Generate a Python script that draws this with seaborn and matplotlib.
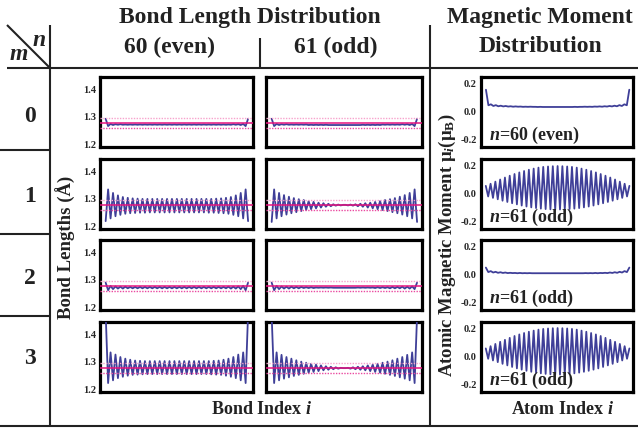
import matplotlib
matplotlib.use("Agg")
import matplotlib.pyplot as plt
import seaborn as sns
import pandas as pd

sns.set_style("white")
plt.rcParams['font.family'] = ['Liberation Serif', 'DejaVu Serif']
plt.rcParams['font.weight'] = 'bold'
plt.rcParams['mathtext.fontset'] = 'custom'
plt.rcParams['mathtext.rm'] = 'Liberation Serif:bold'
plt.rcParams['mathtext.it'] = 'Liberation Serif:italic:bold'
plt.rcParams['mathtext.bf'] = 'Liberation Serif:bold'

# ---------------- data ----------------
row_labels = ["0", "1", "2", "3"]
col_titles = ["60 (even)", "61 (odd)"]
bond_ticks = [1.2, 1.3, 1.4]
mag_ticks = [-0.2, 0.0, 0.2]
mean_bond = 1.277
bond_band = [1.296, 1.258]
mag_labels = ["$n$=60 (even)", "$n$=61 (odd)", "$n$=61 (odd)", "$n$=61 (odd)"]

bond_m0_even = [1.293,1.266,1.274,1.270,1.273,1.271,1.273,1.271,1.272,1.271,1.272,1.271,1.272,1.271,1.272,
                1.271,1.272,1.271,1.272,1.271,1.272,1.271,1.272,1.271,1.272,1.271,1.272,1.271,1.272,1.271,
                1.272,1.271,1.272,1.271,1.272,1.271,1.272,1.271,1.272,1.271,1.272,1.271,1.272,1.271,1.272,
                1.271,1.272,1.271,1.272,1.271,1.272,1.271,1.273,1.271,1.273,1.270,1.274,1.266,1.293]
bond_m0_odd = [1.293,1.266,1.274,1.270,1.273,1.271,1.273,1.271,1.272,1.271,1.272,1.271,1.272,1.271,1.272,
               1.270,1.271,1.270,1.271,1.270,1.271,1.270,1.271,1.270,1.270,1.270,1.270,1.270,1.270,1.270,
               1.270,1.270,1.270,1.270,1.270,1.270,1.270,1.271,1.270,1.271,1.270,1.271,1.270,1.271,1.270,
               1.272,1.271,1.272,1.271,1.272,1.271,1.272,1.271,1.273,1.271,1.273,1.270,1.274,1.266,1.293]
bond_m1_even = [1.218,1.335,1.228,1.322,1.236,1.313,1.241,1.307,1.245,1.304,1.247,1.302,1.248,1.301,1.249,
                1.300,1.249,1.300,1.250,1.300,1.250,1.300,1.250,1.300,1.250,1.300,1.250,1.300,1.250,1.300,
                1.250,1.300,1.250,1.300,1.250,1.300,1.250,1.300,1.250,1.300,1.250,1.300,1.249,1.300,1.249,
                1.301,1.248,1.302,1.247,1.304,1.245,1.307,1.241,1.313,1.236,1.322,1.228,1.335,1.218]
bond_m1_odd = [1.215,1.335,1.228,1.322,1.236,1.314,1.242,1.308,1.247,1.303,1.251,1.299,1.255,1.296,1.259,
               1.292,1.262,1.289,1.265,1.286,1.268,1.284,1.271,1.282,1.273,1.280,1.275,1.279,1.276,1.278,
               1.278,1.276,1.279,1.275,1.280,1.273,1.282,1.271,1.284,1.268,1.286,1.265,1.289,1.262,1.292,
               1.259,1.296,1.255,1.299,1.251,1.303,1.247,1.308,1.242,1.314,1.236,1.322,1.228,1.335,1.215]
bond_m2_even = [1.290,1.262,1.278,1.266,1.276,1.268,1.275,1.268,1.275,1.269,1.274,1.269,1.274,1.269,1.274,
                1.269,1.274,1.269,1.274,1.269,1.274,1.269,1.274,1.269,1.274,1.269,1.274,1.269,1.274,1.269,
                1.274,1.269,1.274,1.269,1.274,1.269,1.274,1.269,1.274,1.269,1.274,1.269,1.274,1.269,1.274,
                1.269,1.274,1.269,1.274,1.269,1.275,1.268,1.275,1.268,1.276,1.266,1.278,1.262,1.290]
bond_m2_odd = [1.290,1.262,1.278,1.266,1.276,1.268,1.275,1.268,1.275,1.269,1.274,1.269,1.274,1.270,1.273,
               1.270,1.273,1.270,1.272,1.271,1.272,1.271,1.272,1.271,1.272,1.271,1.271,1.271,1.271,1.271,
               1.271,1.271,1.271,1.271,1.271,1.272,1.271,1.272,1.271,1.272,1.271,1.272,1.270,1.273,1.270,
               1.273,1.270,1.273,1.269,1.274,1.269,1.274,1.269,1.275,1.268,1.275,1.268,1.276,1.266,1.290]
bond_m3_even = [1.480,1.222,1.335,1.232,1.327,1.240,1.318,1.245,1.312,1.249,1.308,1.252,1.305,1.253,1.304,
                1.254,1.303,1.255,1.303,1.255,1.303,1.255,1.303,1.255,1.303,1.255,1.303,1.255,1.303,1.255,
                1.303,1.255,1.303,1.255,1.303,1.255,1.303,1.255,1.303,1.255,1.303,1.255,1.303,1.254,1.304,
                1.253,1.305,1.252,1.308,1.249,1.312,1.245,1.318,1.240,1.327,1.232,1.335,1.222,1.480]
bond_m3_odd = [1.470,1.222,1.335,1.232,1.326,1.238,1.318,1.243,1.312,1.248,1.306,1.252,1.301,1.256,1.297,
               1.260,1.293,1.263,1.290,1.266,1.287,1.269,1.284,1.271,1.282,1.273,1.280,1.275,1.278,1.277,
               1.277,1.278,1.275,1.280,1.273,1.282,1.271,1.284,1.269,1.287,1.266,1.290,1.263,1.293,1.260,
               1.297,1.256,1.301,1.252,1.306,1.248,1.312,1.243,1.318,1.238,1.326,1.232,1.335,1.222,1.470]

mag_m0 = [0.155,0.045,0.052,0.040,0.046,0.038,0.042,0.037,0.040,0.036,0.038,0.035,0.037,0.035,0.036,
          0.034,0.035,0.034,0.035,0.034,0.034,0.033,0.034,0.033,0.033,0.033,0.033,0.033,0.033,0.033,
          0.033,0.033,0.033,0.033,0.033,0.033,0.034,0.033,0.034,0.034,0.035,0.034,0.035,0.034,0.036,
          0.035,0.037,0.035,0.038,0.036,0.040,0.037,0.042,0.038,0.046,0.040,0.052,0.045,0.155]
mag_m1 = [0.055,-0.020,0.070,-0.030,0.085,-0.040,0.100,-0.050,0.114,-0.059,0.127,-0.068,0.139,-0.076,0.150,
          -0.084,0.160,-0.091,0.169,-0.097,0.177,-0.102,0.184,-0.106,0.189,-0.109,0.192,-0.111,0.194,-0.112,
          0.195,
          -0.112,0.194,-0.111,0.192,-0.109,0.189,-0.106,0.184,-0.102,0.177,-0.097,0.169,-0.091,0.160,-0.084,
          0.150,-0.076,0.139,-0.068,0.127,-0.059,0.114,-0.050,0.100,-0.040,0.085,-0.030,0.070,-0.020,0.055]
mag_m2 = [0.050,0.018,0.025,0.015,0.020,0.013,0.017,0.012,0.015,0.011,0.013,0.011,0.012,0.010,0.012,
          0.010,0.011,0.010,0.011,0.010,0.010,0.010,0.010,0.010,0.010,0.010,0.010,0.010,0.010,0.010,
          0.010,
          0.010,0.010,0.010,0.010,0.010,0.010,0.010,0.010,0.010,0.010,0.011,0.010,0.011,0.010,0.012,
          0.010,0.012,0.011,0.013,0.011,0.015,0.012,0.017,0.013,0.020,0.015,0.025,0.018,0.050]
mag_m3 = [0.058,-0.015,0.074,-0.027,0.090,-0.039,0.105,-0.051,0.119,-0.062,0.133,-0.073,0.146,-0.083,0.157,
          -0.092,0.167,-0.100,0.176,-0.107,0.184,-0.113,0.191,-0.118,0.196,-0.122,0.199,-0.125,0.201,-0.127,
          0.202,
          -0.127,0.201,-0.125,0.199,-0.122,0.196,-0.118,0.191,-0.113,0.184,-0.107,0.176,-0.100,0.167,-0.092,
          0.157,-0.083,0.146,-0.073,0.133,-0.062,0.119,-0.051,0.105,-0.039,0.090,-0.027,0.074,-0.015,0.058]

bond_even = [bond_m0_even, bond_m1_even, bond_m2_even, bond_m3_even]
bond_odd = [bond_m0_odd, bond_m1_odd, bond_m2_odd, bond_m3_odd]
mags = [mag_m0, mag_m1, mag_m2, mag_m3]

# ---------------- layout ----------------
W, H = 638, 429
fig = plt.figure(figsize=(W / 100, H / 100), dpi=100)

bg = fig.add_axes([0, 0, 1, 1])
bg.set_xlim(0, W)
bg.set_ylim(H, 0)
bg.axis('off')

BLUE = "#3f3f98"
MAG = "#e5147f"
PINK_U = "#f7a3cc"
PINK_L = "#ea4aa0"

cols = [(100, 253), (266, 422), (481, 633)]
rows = [(77, 147), (159, 229), (240, 310), (322, 392)]


def add_panel(col, row):
    x0, x1 = cols[col]
    y0, y1 = rows[row]
    ax = fig.add_axes([x0 / W, 1 - y1 / H, (x1 - x0) / W, (y1 - y0) / H])
    for s in ax.spines.values():
        s.set_linewidth(2.3)
        s.set_color("black")
    ax.set_xticks([])
    return ax


for r in range(4):
    for c, series in enumerate([bond_even[r], bond_odd[r]]):
        ax = add_panel(c, r)
        df = pd.DataFrame({"i": range(1, len(series) + 1), "b": series})
        sns.lineplot(data=df, x="i", y="b", ax=ax, color=BLUE, lw=1.3, zorder=3)
        ax.axhline(bond_band[0], color=PINK_U, lw=1.0, ls=(0, (1, 1)), zorder=4)
        ax.axhline(bond_band[1], color=PINK_L, lw=1.0, ls=(0, (1, 1)), zorder=4)
        ax.axhline(mean_bond, color=MAG, lw=1.1, zorder=5)
        ax.set_xlim(-1.3, len(series) + 2.0)
        ax.set_ylim(1.189, 1.447)
        ax.set_xlabel("")
        ax.set_ylabel("")
        ax.set_yticks(bond_ticks)
        if c == 0:
            ax.set_yticklabels([f"{t:.1f}" for t in bond_ticks], fontsize=7.5, fontweight='bold')
        else:
            ax.set_yticklabels([])
        ax.tick_params(axis='y', length=0, pad=3)

    ax = add_panel(2, r)
    mser = mags[r]
    df = pd.DataFrame({"a": range(1, len(mser) + 1), "m": mser})
    sns.lineplot(data=df, x="a", y="m", ax=ax, color=BLUE, lw=1.3)
    ax.set_xlim(-1.0, len(mser) + 1.5)
    ax.set_ylim(-0.25, 0.245)
    ax.set_xlabel("")
    ax.set_ylabel("")
    ax.set_yticks(mag_ticks)
    ax.set_yticklabels([f"{t:.1f}" for t in mag_ticks], fontsize=7.5, fontweight='bold')
    ax.tick_params(axis='y', length=0, pad=3)
    ax.text(0.05, 0.02, mag_labels[r], transform=ax.transAxes, ha='left', va='bottom',
            fontsize=13, fontweight='bold', color="#222222")

# ---------------- table frame ----------------
lk = dict(color="#222222", lw=1.5, solid_capstyle='butt')
bg.plot([7, 50], [25, 68], **lk)
bg.plot([7, W], [68, 68], **lk)
bg.plot([50, 50], [25, 426], **lk)
bg.plot([260, 260], [38, 68], **lk)
bg.plot([430, 430], [25, 426], **lk)
for yy in [150, 234, 316]:
    bg.plot([0, 50], [yy, yy], **lk)
bg.plot([0, W], [426, 426], **lk)

TXT = "#222222"
bg.text(250, 18, "Bond Length Distribution", ha='center', va='center', fontsize=17, fontweight='bold', color=TXT)
bg.text(170, 47, col_titles[0], ha='center', va='center', fontsize=17, fontweight='bold', color=TXT)
bg.text(336, 47, col_titles[1], ha='center', va='center', fontsize=17, fontweight='bold', color=TXT)
bg.text(540, 18, "Magnetic Moment", ha='center', va='center', fontsize=17, fontweight='bold', color=TXT)
bg.text(540, 47, "Distribution", ha='center', va='center', fontsize=17, fontweight='bold', color=TXT)
bg.text(39, 40, "$n$", ha='center', va='center', fontsize=17, color=TXT)
bg.text(19, 54, "$m$", ha='center', va='center', fontsize=17, color=TXT)
for lab, yy in zip(row_labels, [117, 197, 278, 358]):
    bg.text(30, yy, lab, ha='center', va='center', fontsize=17, fontweight='bold', color=TXT)

bg.text(66, 247, "Bond Lengths (Å)", ha='center', va='center', rotation=90, fontsize=13.5, fontweight='bold', color=TXT)
bg.text(447, 245, "Atomic Magnetic Moment μ$_{i}$(μ$_\\mathrm{B}$)", ha='center', va='center', rotation=90,
        fontsize=13.5, fontweight='bold', color=TXT)
bg.text(261, 409, "Bond Index $i$", ha='center', va='center', fontsize=13, fontweight='bold', color=TXT)
bg.text(562, 409, "Atom Index $i$", ha='center', va='center', fontsize=13, fontweight='bold', color=TXT)

fig.savefig("out.png", dpi=100)
